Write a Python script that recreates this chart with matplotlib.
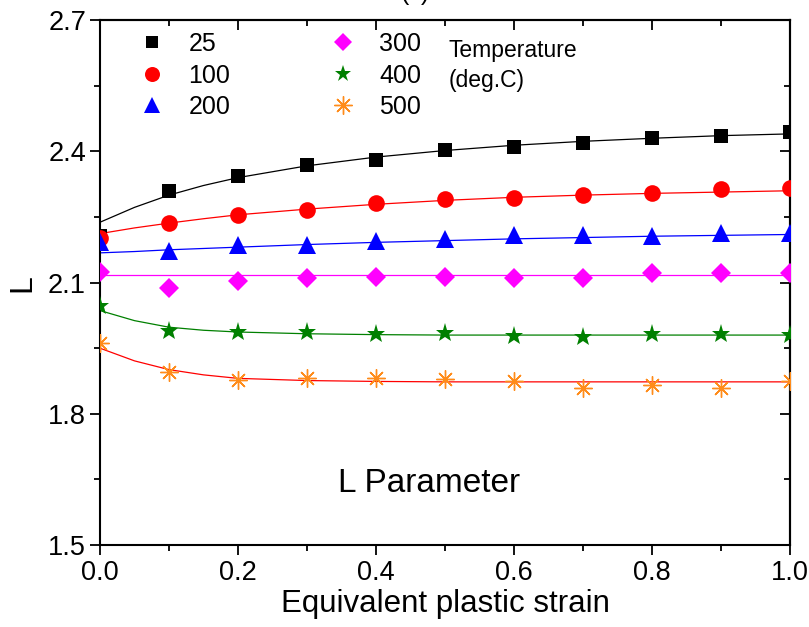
import matplotlib
matplotlib.use("Agg")
import matplotlib.pyplot as plt
from matplotlib.lines import Line2D
from matplotlib.ticker import MultipleLocator

# measured points (equivalent plastic strain vs L)
strain = [0.0, 0.1, 0.2, 0.3, 0.4, 0.5, 0.6, 0.7, 0.8, 0.9, 1.0]
L_25 = [2.206, 2.310, 2.343, 2.370, 2.381, 2.403, 2.410, 2.419, 2.430, 2.436, 2.445]
L_100 = [2.203, 2.237, 2.255, 2.266, 2.281, 2.291, 2.294, 2.301, 2.304, 2.314, 2.317]
L_200 = [2.192, 2.173, 2.186, 2.187, 2.196, 2.200, 2.208, 2.209, 2.206, 2.213, 2.213]
L_300 = [2.125, 2.088, 2.103, 2.110, 2.112, 2.113, 2.110, 2.110, 2.122, 2.122, 2.121]
L_400 = [2.046, 1.989, 1.988, 1.986, 1.982, 1.984, 1.978, 1.976, 1.983, 1.982, 1.980]
L_500 = [1.962, 1.895, 1.877, 1.881, 1.881, 1.879, 1.876, 1.860, 1.866, 1.859, 1.875]

# fitted curves
fit_x = [0.0, 0.05, 0.1, 0.15, 0.2, 0.3, 0.4, 0.5, 0.6, 0.7, 0.8, 0.9, 1.0]
fit_25 = [2.238, 2.272, 2.300, 2.322, 2.340, 2.367, 2.387, 2.402, 2.414, 2.423, 2.430, 2.436, 2.440]
fit_100 = [2.212, 2.225, 2.236, 2.246, 2.255, 2.268, 2.279, 2.288, 2.295, 2.300, 2.304, 2.307, 2.310]
fit_200 = [2.168, 2.171, 2.175, 2.178, 2.181, 2.187, 2.192, 2.196, 2.200, 2.203, 2.206, 2.208, 2.210]
fit_300 = [2.118] * 13
fit_400 = [2.036, 2.013, 1.998, 1.991, 1.987, 1.983, 1.981, 1.980, 1.980, 1.980, 1.980, 1.980, 1.980]
fit_500 = [1.950, 1.921, 1.901, 1.889, 1.881, 1.876, 1.874, 1.873, 1.873, 1.873, 1.873, 1.873, 1.873]

labels = ["25", "100", "200", "300", "400", "500"]

series = [
    (L_25, fit_25, "s", "black", "black", 10),
    (L_100, fit_100, "o", "red", "red", 12),
    (L_200, fit_200, "^", "blue", "blue", 12.5),
    (L_300, fit_300, "D", "magenta", "magenta", 10),
    (L_400, fit_400, "*", "green", "#008000", 14),
    (L_500, fit_500, (8, 2, 0), "red", "#FF8C1A", 13),
]

plt.rcParams["font.family"] = ["Liberation Sans", "DejaVu Sans"]

fig = plt.figure(figsize=(8.09, 6.27), dpi=100)
ax = fig.add_axes([0.1236, 0.1308, 0.853, 0.837])

handles = []
for (pts, fit, mk, lc, mc, ms), lab in zip(series, labels):
    ax.plot(fit_x, fit, "-", color=lc, lw=0.9, zorder=2)
    if mk == (8, 2, 0):
        ax.plot(strain, pts, ls="none", marker=mk, ms=ms, mec=mc, mfc=mc, mew=1.0, zorder=3)
        handles.append(Line2D([], [], ls="none", marker=mk, ms=ms, mec=mc, mew=1.0))
    else:
        ax.plot(strain, pts, ls="none", marker=mk, ms=ms, mec=mc, mfc=mc, mew=0, zorder=3)
        handles.append(Line2D([], [], ls="none", marker=mk, ms=ms * 0.9, mec=mc, mfc=mc, mew=0))

ax.set_xlim(0.0, 1.0)
ax.set_ylim(1.5, 2.7)
ax.xaxis.set_minor_locator(MultipleLocator(0.1))
ax.yaxis.set_minor_locator(MultipleLocator(0.15))
ax.tick_params(which="both", direction="out", top=False, right=False, width=1.3)
ax.tick_params(which="major", length=7)
ax.tick_params(which="minor", length=4)

# inward ticks on top and right
sec_x = ax.secondary_xaxis("top")
sec_x.xaxis.set_major_locator(MultipleLocator(0.2))
sec_x.xaxis.set_minor_locator(MultipleLocator(0.1))
sec_x.tick_params(which="both", direction="in", labeltop=False, width=1.3)
sec_x.tick_params(which="major", length=7)
sec_x.tick_params(which="minor", length=4)
sec_y = ax.secondary_yaxis("right")
sec_y.yaxis.set_major_locator(MultipleLocator(0.3))
sec_y.yaxis.set_minor_locator(MultipleLocator(0.15))
sec_y.tick_params(which="both", direction="in", labelright=False, width=1.3)
sec_y.tick_params(which="major", length=7)
sec_y.tick_params(which="minor", length=4)
for sp in ax.spines.values():
    sp.set_linewidth(1.5)
sec_x.spines["top"].set_linewidth(1.5)
sec_y.spines["right"].set_linewidth(1.5)

ax.set_xticks([0.0, 0.2, 0.4, 0.6, 0.8, 1.0])
ax.set_xticklabels(["0.0", "0.2", "0.4", "0.6", "0.8", "1.0"], fontsize=19.5)
ax.set_yticks([1.5, 1.8, 2.1, 2.4, 2.7])
ax.set_yticklabels(["1.5", "1.8", "2.1", "2.4", "2.7"], fontsize=19.5)
ax.tick_params(axis="x", pad=4)
ax.tick_params(axis="y", pad=3)

ax.set_xlabel("Equivalent plastic strain", fontsize=22.5, labelpad=2)
ax.set_ylabel("L", fontsize=23, labelpad=8)

leg = ax.legend(handles, labels, ncol=2, loc="upper left", frameon=False,
                fontsize=18, bbox_to_anchor=(0.016, 1.02), handletextpad=0.7,
                columnspacing=3.75, labelspacing=0.3, handlelength=1.5)

ax.text(0.505, 0.965, "Temperature\n(deg.C)", transform=ax.transAxes,
        fontsize=16.5, va="top", ha="left", linespacing=1.4)
ax.text(0.477, 0.117, "L Parameter", transform=ax.transAxes,
        fontsize=24, ha="center", va="center")

fig.text(0.513, 1.0, "(c)", fontsize=18, ha="center", va="baseline")

fig.savefig("out.png", dpi=100)
